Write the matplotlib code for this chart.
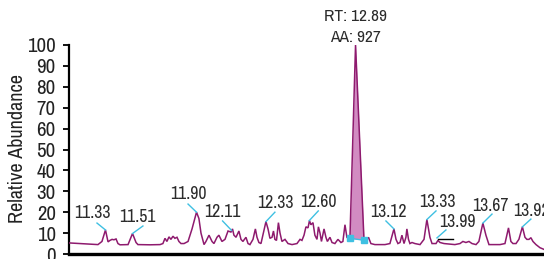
import matplotlib
matplotlib.use("Agg")
import matplotlib.pyplot as plt
import numpy as np

plt.rcParams['font.family'] = ['Liberation Sans Narrow', 'Archivo Narrow', 'DejaVu Sans']

# ---- data: retention time (min) vs relative abundance (%) ----
rt = [11.099, 11.168, 11.280, 11.305, 11.327, 11.343, 11.355, 11.368, 11.380, 11.393,
      11.405, 11.418, 11.468, 11.496, 11.518, 11.530, 11.605, 11.668, 11.686, 11.699,
      11.711, 11.724, 11.736, 11.749, 11.761, 11.774, 11.786, 11.799, 11.818, 11.843,
      11.868, 11.896, 11.911, 11.924, 11.943, 11.955, 11.974, 11.993, 12.005, 12.024,
      12.036, 12.055, 12.074, 12.093, 12.111, 12.121, 12.130, 12.143, 12.161, 12.174,
      12.186, 12.205, 12.218, 12.230, 12.249, 12.264, 12.274, 12.286, 12.299, 12.311,
      12.330, 12.343, 12.355, 12.368, 12.377, 12.386, 12.396, 12.408, 12.418, 12.430,
      12.449, 12.468, 12.493, 12.524, 12.543, 12.555, 12.568, 12.580, 12.593, 12.602,
      12.611, 12.624, 12.636, 12.649, 12.658, 12.668, 12.677, 12.693, 12.705, 12.714,
      12.730, 12.743, 12.761, 12.780, 12.799, 12.811, 12.824, 12.836, 12.849, 12.855,
      12.890, 12.943, 12.955, 12.971, 12.986, 13.011, 13.074, 13.105, 13.130, 13.143,
      13.155, 13.168, 13.180, 13.193, 13.205, 13.211, 13.221, 13.230, 13.243, 13.261,
      13.293, 13.318, 13.336, 13.355, 13.368, 13.393, 13.405, 13.418, 13.443, 13.511,
      13.543, 13.561, 13.580, 13.599, 13.618, 13.643, 13.661, 13.686, 13.705, 13.724,
      13.793, 13.824, 13.846, 13.861, 13.874, 13.893, 13.911, 13.933, 13.949, 13.961,
      13.974, 13.986, 13.999, 14.018, 14.043, 14.068]
abundance = [5.3, 5.0, 4.5, 6.0, 11.5, 5.8, 6.5, 7.0, 6.8, 7.2,
             5.0, 4.4, 4.5, 9.8, 5.5, 4.5, 4.4, 4.5, 5.0, 7.5,
             6.0, 8.2, 7.0, 8.5, 7.5, 8.0, 6.0, 5.0, 5.0, 6.0,
             12.0, 20.0, 17.0, 10.0, 4.5, 6.0, 9.0, 6.0, 5.0, 8.0,
             9.0, 6.0, 7.0, 11.0, 10.5, 12.0, 9.0, 8.0, 11.0, 7.0,
             6.0, 8.0, 5.0, 4.5, 7.0, 12.0, 8.0, 5.5, 5.0, 9.0,
             15.5, 12.0, 7.5, 8.0, 11.0, 7.0, 6.5, 15.0, 10.0, 6.0,
             7.0, 5.0, 4.5, 5.0, 7.0, 6.5, 9.0, 13.0, 12.5, 16.0,
             14.0, 15.0, 9.0, 7.0, 13.0, 10.0, 6.0, 12.0, 8.0, 6.0,
             8.0, 5.5, 5.0, 7.0, 5.5, 6.0, 14.0, 8.0, 7.0, 7.5,
             100.0, 6.5, 6.0, 8.0, 5.0, 4.5, 4.5, 5.0, 12.0, 7.0,
             5.0, 5.5, 9.0, 5.0, 8.0, 12.0, 7.0, 5.0, 5.5, 5.0,
             4.5, 7.0, 16.5, 8.0, 5.0, 5.0, 6.5, 5.5, 5.0, 4.5,
             5.0, 6.0, 5.5, 6.0, 5.0, 4.5, 6.0, 14.8, 9.0, 4.5,
             4.5, 5.0, 12.5, 6.0, 5.0, 5.0, 7.0, 13.0, 8.0, 7.0,
             7.0, 7.8, 6.0, 4.5, 3.0, 2.2]

# integrated main peak boundaries
peak_start = (12.855, 7.5)
peak_end = (12.943, 6.6)
peak_rt = 12.89
peak_area = 927

# peak labels: text, text position (rt, abundance), leader start, leader end
labels = ["11.33", "11.51", "11.90", "12.11", "12.33", "12.60",
          "13.12", "13.33", "13.99", "13.67", "13.92"]
label_rt = [11.243, 11.524, 11.843, 12.055, 12.386, 12.655,
            13.093, 13.399, 13.524, 13.736, 13.990]
label_ab = [19.6, 17.7, 28.7, 20.1, 24.4, 24.9,
            20.1, 24.9, 15.3, 23.0, 20.6]
lead_rt0 = [11.274, 11.561, 11.843, 12.059, 12.386, 12.657,
            13.080, 13.393, 13.455, 13.743, 13.986]
lead_ab0 = [14.8, 13.4, 23.9, 15.8, 20.0, 20.6,
            15.8, 20.6, 11.5, 19.1, 16.7]
lead_rt1 = [11.327, 11.496, 11.896, 12.115, 12.330, 12.601,
            13.130, 13.336, 13.399, 13.686, 13.933]
lead_ab1 = [11.5, 9.8, 20.0, 11.3, 15.5, 16.0,
            12.0, 16.5, 7.7, 14.8, 13.0]
marker_rt = [13.405, 13.499]
marker_ab = [7.4, 7.4]

yticks = [0, 10, 20, 30, 40, 50, 60, 70, 80, 90, 100]

# ---- styles ----
PURPLE = "#8E1A6E"
PINK = "#D28BC2"
CYAN = "#3FC0E2"
TXT = "#2b2b2b"

fig = plt.figure(figsize=(5.44, 2.59), dpi=100)
ax = fig.add_axes([69 / 544, 5 / 259, 475 / 544, 209 / 259])
ax.set_xlim(11.099, 14.068)
ax.set_ylim(0, 100)

rt_a = np.array(rt)
ab_a = np.array(abundance)

# filled integrated peak
mask = (rt_a >= peak_start[0]) & (rt_a <= peak_end[0])
base = np.interp(rt_a[mask], [peak_start[0], peak_end[0]], [peak_start[1], peak_end[1]])
ax.fill_between(rt_a[mask], base, ab_a[mask], color=PINK, lw=0, zorder=2)
ax.plot([peak_start[0], peak_end[0]], [peak_start[1], peak_end[1]], color=CYAN, lw=1.0, zorder=3)

ax.plot(rt_a, ab_a, color=PURPLE, lw=1.1, zorder=4, solid_joinstyle='miter')
ax.plot([peak_start[0], peak_end[0]], [peak_start[1], peak_end[1]], ls='none',
        marker='s', ms=4, color=CYAN, zorder=5)

for i, t in enumerate(labels):
    ax.plot([lead_rt0[i], lead_rt1[i]], [lead_ab0[i], lead_ab1[i]], color=CYAN, lw=1.0, zorder=5)
    ax.text(label_rt[i], label_ab[i], t, ha='center', va='center', fontsize=12.8,
            color=TXT, clip_on=False, zorder=6)

ax.plot(marker_rt, marker_ab, color='black', lw=1.0, zorder=5)

ax.text(peak_rt, 113.4, f"RT: {peak_rt:.2f}", ha='center', va='center', fontsize=12.5,
        color=TXT, clip_on=False)
ax.text(peak_rt, 103.8, f"AA: {peak_area}", ha='center', va='center', fontsize=12.5,
        color=TXT, clip_on=False)

for s in ['top', 'right']:
    ax.spines[s].set_visible(False)
ax.spines['left'].set_linewidth(1.6)
ax.spines['bottom'].set_linewidth(2.4)
ax.set_yticks(yticks)
ax.set_yticklabels([str(v) for v in yticks])
ax.tick_params(axis='y', length=4.5, width=1.3, pad=5, labelsize=15, labelcolor='#222222')
ax.set_xticks([])

fig.text(18 / 544, 1 - 148.5 / 259, "Relative Abundance", rotation=90, ha='center',
         va='center', fontsize=14.5, color='#222222')

fig.savefig("out.png", dpi=100)
